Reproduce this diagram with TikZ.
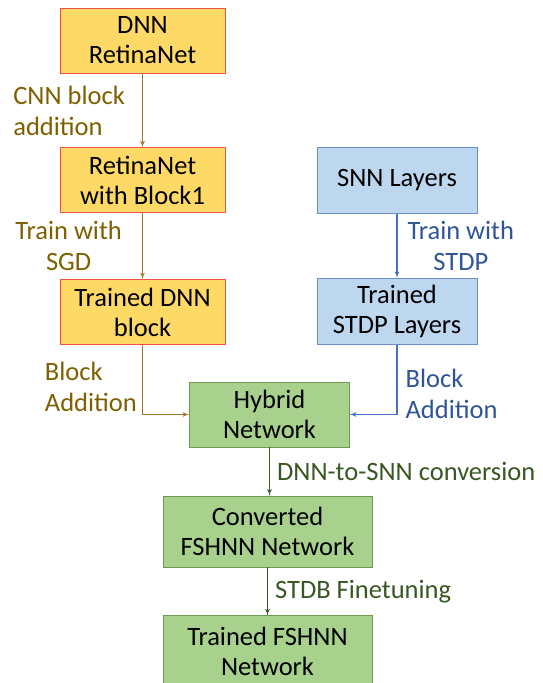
\documentclass[tikz,border=0pt]{standalone}
\usepackage{fontspec}
\setmainfont{Carlito}
\usepackage{tikz}
\usetikzlibrary{calc, arrows, positioning}
\definecolor{dnnfill}{HTML}{FFD966}
\definecolor{dnnline}{HTML}{F4504A}
\definecolor{dnntext}{HTML}{7F6000}
\definecolor{dnnarrow}{HTML}{9C7A2A}
\definecolor{snnfill}{HTML}{BDD7EE}
\definecolor{snnline}{HTML}{6D8EC4}
\definecolor{snntext}{HTML}{2F5597}
\definecolor{snnarrow}{HTML}{4472C4}
\definecolor{hybfill}{HTML}{A9D18E}
\definecolor{hybline}{HTML}{6E9B52}
\definecolor{hybtext}{HTML}{385723}
\tikzstyle{dnn}=[draw=dnnline, fill=dnnfill, thick, minimum width=165pt, minimum height=65pt, align=center]
\tikzstyle{snn}=[draw=snnline, fill=snnfill, thick, minimum width=160pt, minimum height=66pt, align=center]
\tikzstyle{hyb}=[draw=hybline, fill=hybfill, thick, minimum height=65pt, align=center]
\tikzstyle{lbl}=[inner sep=0pt, font=\fontsize{26.5}{31}\selectfont]

\begin{document}
\begin{tikzpicture}[x=1pt,y=1pt,>=latex',line width=1.2pt,
  every node/.style={font=\fontsize{26.5}{30}\selectfont}]
      \useasboundingbox (0,0) rectangle (542,-683);
      \node [dnn] (retina) at (142.5,-40.5) {DNN\\RetinaNet};
      \node [dnn] (block1) [below=74pt of retina] {RetinaNet\\with Block1};
      \node [dnn] (trained) [below=66pt of block1] {Trained DNN\\block};
      \node [snn] (snn) at (397,-180.5) {SNN Layers};
      \node [snn] (stdp) [below=64pt of snn] {Trained\\STDP Layers};
      \node [hyb, minimum width=160pt] (hybrid) at (269.5,-414.5) {Hybrid\\Network};
      \node [hyb, minimum width=209pt, minimum height=71pt] (conv) at (267.5,-531.5) {Converted\\FSHNN Network};
      \node [hyb, minimum width=209pt, minimum height=71pt] (final) [below=48pt of conv] {Trained FSHNN\\Network};
      \draw[->, dnnarrow] (retina) -- node [lbl, left=17pt, align=left, text=dnntext] {CNN block\\addition} (block1);
      \draw[->, dnnarrow] (block1) -- node [lbl, left=20pt, align=center, text=dnntext] {Train with\\SGD} (trained);
      \draw[->, dnnarrow] (trained) |- node [lbl, pos=0.30, left=5pt, align=left, text=dnntext] {Block\\Addition} (hybrid);
      \draw[->, snnarrow] (snn) -- node [lbl, right=10pt, align=center, text=snntext] {Train with\\STDP} (stdp);
      \draw[->, snnarrow] (stdp) |- node [lbl, pos=0.35, right=8pt, align=left, text=snntext] {Block\\Addition} (hybrid);
      \draw[->, hybtext] (hybrid) -- node [lbl, right=7pt, text=hybtext] {DNN-to-SNN conversion} (hybrid |- conv.north);
      \draw[->, hybtext] (conv) -- node [lbl, right=7pt, text=hybtext] {STDB Finetuning} (final);
  \end{tikzpicture}
\end{document}
